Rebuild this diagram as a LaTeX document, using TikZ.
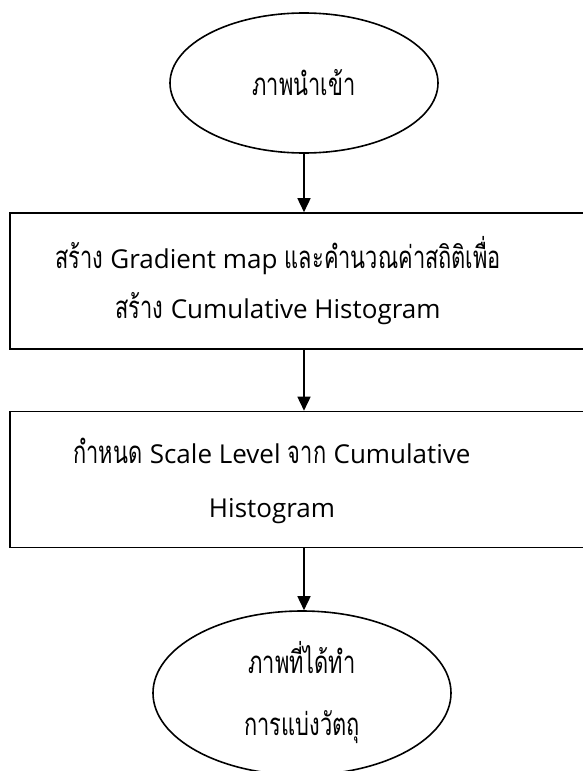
\documentclass[tikz,border=0pt]{standalone}
\usepackage{fontspec}
\setmainfont[Script=Thai,Scale=1.2,FakeStretch=0.7]{Loma}
\newfontfamily\latfont[Scale=1.0]{Open Sans}
\newcommand\latw[1]{{\latfont #1}}
\usetikzlibrary{shapes.geometric,arrows.meta}
\tikzset{
  term/.style={draw, ellipse, line width=1.6pt, inner sep=0pt, align=center},
  procbox/.style={draw, rectangle, line width=1.6pt, minimum width=588pt, minimum height=136pt, inner sep=0pt},
  arr/.style={line width=1.6pt, -{Triangle[width=13pt,length=14pt]}},
  txt/.style={font=\fontsize{26}{50}\selectfont, align=center, inner sep=0pt}
}
\begin{document}
\begin{tikzpicture}[x=1pt,y=-1pt]
\clip (0,0) rectangle (583,771);
\node[term, txt, minimum width=268pt, minimum height=140pt] (e1) at (304,83) {ภาพนำเข้า};
\node[procbox] (b1) at (304,281) {};
\node[txt] (b1t) at (278,281) {สร้าง \latw{Gradient map} และคำนวณค่าสถิติเพื่อ\\สร้าง \latw{Cumulative Histogram}};
\node[procbox] (b2) at (304,479.5) {};
\node[txt, font=\fontsize{26}{54}\selectfont] (b2t) at (272,481) {กำหนด \latw{Scale Level} จาก \latw{Cumulative}\\\latw{Histogram}};
\node[term, txt, minimum width=298pt, minimum height=164pt, font=\fontsize{26}{62}\selectfont] (e2) at (302,693) {ภาพที่ได้ทำ\\การแบ่งวัตถุ};
\draw[arr] (e1.south) -- (b1.north);
\draw[arr] (b1.south) -- (b2.north);
\draw[arr] (b2.south) -- (b2.south |- e2.north);
\end{tikzpicture}
\end{document}
